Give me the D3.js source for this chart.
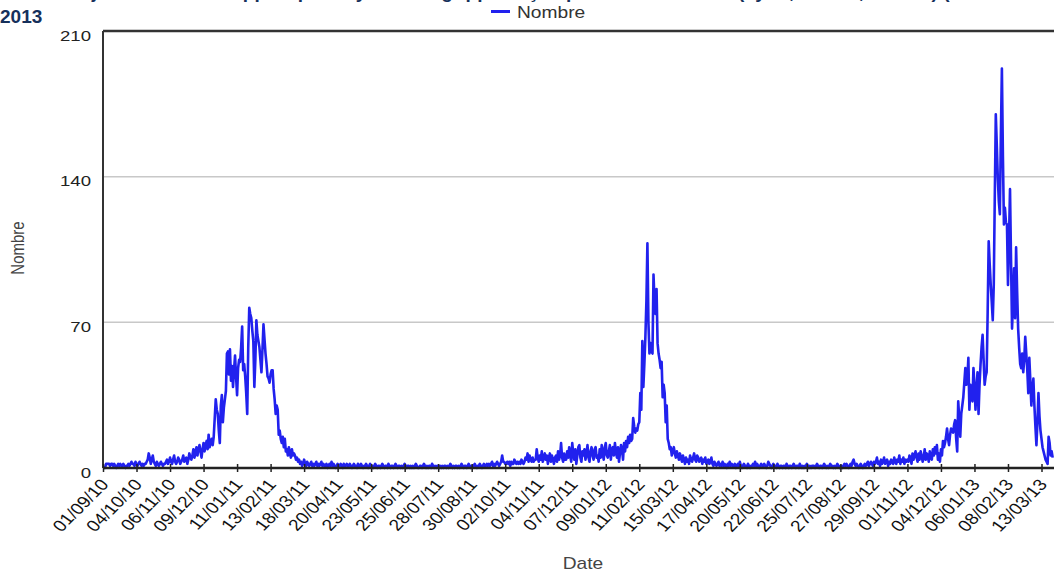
<!DOCTYPE html>
<html>
<head>
<meta charset="utf-8">
<script src="https://cdn.jsdelivr.net/npm/d3@7"></script>
<style>
  body { margin: 0; background: #fff; overflow: hidden; }
  svg { display: block; }
</style>
</head>
<body>
<div id="chart-container"></div>
<script>
// Title, axis names and tick labels

const titleLines = [
  'Évolution journalière des appels pour syndrome grippal reçus par SOS Médecins (Lyon, Rhône, France) (2010 -',
  '2013',
]
const seriesName = 'Nombre'
const xTitle = 'Date'
const yTitle = 'Nombre'
const yTicks = [0, 70, 140, 210]
const tickLabels = [
  '01/09/10', '04/10/10', '06/11/10', '09/12/10', '11/01/11', '13/02/11', '18/03/11',
  '20/04/11', '23/05/11', '25/06/11', '28/07/11', '30/08/11', '02/10/11', '04/11/11',
  '07/12/11', '09/01/12', '11/02/12', '15/03/12', '17/04/12', '20/05/12', '22/06/12',
  '25/07/12', '27/08/12', '29/09/12', '01/11/12', '04/12/12', '06/01/13', '08/02/13',
  '13/03/13',
]

// Daily counts, one array per month

const sep10 = [0,0,0,2,2,2,2,1,2,2,1,2,1,0,1,2,1,2,1,1,2,1,0,1,1,2,1,2,3,2]
const oct10 = [2,1,3,2,1,2,3,2,1,2,1,2,2,3,4,7,5,2,4,6,3,2,1,3,2,1,2,3,2,1,2]
const nov10 = [2,3,4,2,3,5,3,2,4,6,3,2,3,5,4,2,3,4,6,3,4,5,2,4,7,5,4,6,9,5]
const dec10 = [7,10,6,9,11,8,5,9,12,8,11,13,9,16,10,12,14,11,15,24,33,28,26,18,12,30,35,22,29,33,37]
const jan11 = [55,56,45,57,42,49,39,47,54,44,35,48,52,51,58,68,47,50,44,36,26,58,77,74,72,66,61,39,52,71,64]
const feb11 = [61,58,52,46,57,69,62,55,50,44,43,41,45,47,47,38,33,26,30,28,16,18,14,12,15,10,14,8]
const mar11 = [9,6,10,7,5,9,6,7,6,4,5,3,4,2,3,1,2,4,2,1,3,2,1,2,3,1,2,1,2,3,1]
const apr11 = [2,1,2,3,1,2,1,1,2,0,1,2,1,3,1,2,1,0,1,2,1,1,2,1,0,2,1,1,2,1]
const may11 = [1,2,1,0,1,2,1,1,0,2,1,1,2,1,0,1,1,2,1,0,1,2,1,1,0,1,2,1,0,1,1]
const jun11 = [0,1,2,1,0,1,1,0,2,1,0,1,1,0,1,2,1,0,1,1,0,1,0,1,2,1,0,1,1,0]
const jul11 = [1,0,1,0,1,2,1,0,0,1,1,0,1,2,1,0,1,0,1,1,0,2,1,0,1,0,1,1,0,1,0]
const aug11 = [1,0,1,1,0,1,0,1,2,1,0,1,0,1,1,0,1,0,1,2,1,0,1,1,0,1,2,1,0,1,1]
const sep11 = [1,2,1,0,1,1,2,1,0,1,2,1,1,2,1,2,1,2,3,1,2,1,2,3,2,1,2,3,6,3]
const oct11 = [3,2,2,3,2,3,1,3,2,2,4,3,2,3,2,3,2,4,3,2,3,5,4,7,3,6,4,3,5,3,4]
const nov11 = [4,9,5,3,6,4,8,3,5,7,4,6,2,5,7,3,6,4,2,5,6,3,8,4,6,12,5,3,7,4]
const dec11 = [4,8,5,10,6,3,12,7,4,9,2,6,10,11,5,3,8,6,9,4,7,11,5,3,8,10,6,4,9,10,5]
const jan12 = [6,3,9,5,11,7,4,10,12,6,5,8,11,4,9,10,6,12,8,5,10,3,7,11,9,4,12,8,13,10,15]
const feb12 = [12,16,13,14,24,20,17,19,18,21,22,36,28,61,39,50,63,80,108,70,55,60,56,55,93,80,74,86,60]
const mar12 = [55,52,48,51,34,40,36,22,30,14,12,9,10,6,8,10,7,5,8,6,4,7,5,3,6,4,2,5,3,4,2]
const apr12 = [6,4,3,5,7,4,3,6,5,3,4,5,2,4,3,5,2,3,4,2,3,5,2,1,3,2,1,2,3,1]
const may12 = [2,1,3,1,2,1,0,2,1,3,1,2,1,1,2,0,1,2,1,3,1,0,1,2,1,1,0,2,1,0,1]
const jun12 = [1,2,1,3,1,2,1,0,1,2,1,1,2,1,0,1,3,2,1,0,1,2,1,1,0,2,1,0,1,1]
const jul12 = [0,1,1,0,2,1,0,1,1,0,1,2,1,0,1,1,0,2,1,0,1,0,1,1,2,1,0,1,0,1,1]
const aug12 = [1,0,1,2,1,0,1,1,0,1,2,1,0,1,0,1,2,1,1,0,1,0,1,2,1,0,1,1,0,1,2]
const sep12 = [1,2,1,0,1,2,1,3,4,2,1,2,1,0,1,2,1,0,1,2,1,2,3,1,2,3,2,1,3,2]
const oct12 = [3,5,2,3,1,4,2,3,5,2,3,4,1,3,2,4,3,2,5,3,2,4,3,6,2,4,3,5,2,4,3]
const nov12 = [4,3,6,5,2,7,4,6,8,5,3,7,4,8,6,3,5,9,4,7,6,3,8,5,4,9,6,10,7,11]
const dec12 = [4,7,3,9,6,13,10,12,15,19,14,11,16,19,18,17,21,23,14,8,32,24,15,26,30,34,41,48,40,43,53]
const jan13 = [28,40,35,32,48,40,28,38,46,26,40,50,58,64,52,40,44,46,75,109,98,88,80,71,88,130,170,155,139,128,122]
const feb13 = [160,192,150,117,125,118,117,88,110,134,100,67,80,96,72,106,85,67,58,50,48,55,46,52,63,55,47,36]
const mar13 = [53,42,30,38,43,30,20,11,22,36,25,18,14,10,8,6,4,3,2,15,12,6,8,5]

const months = [
  sep10, oct10, nov10, dec10, jan11, feb11, mar11, apr11, may11, jun11, jul11, aug11,
  sep11, oct11, nov11, dec11, jan12, feb12, mar12, apr12, may12, jun12, jul12, aug12,
  sep12, oct12, nov12, dec12, jan13, feb13, mar13,
]

// Build the dataset, one point per day from the first tick date

const parseDate = d3.timeParse('%d/%m/%y')
const tickDates = tickLabels.map(parseDate)
const dataset = months.flat().map((v, i) => ({
  date: d3.timeDay.offset(tickDates[0], i),
  value: v,
}))

// Sizes (the drawing is stretched horizontally like the source image)

const width = 1054
const height = 572
const plot = { left: 103, top: 31, bottom: 468, right: 1054 }
const stretch = 1.2
const font = "'Liberation Sans', Arial, sans-serif"

const svg = d3
  .select('#chart-container')
  .append('svg')
  .attr('width', width)
  .attr('height', height)

// Scales

const x = d3
  .scaleTime()
  .domain([tickDates[0], tickDates[tickDates.length - 1]])
  .range([plot.left, 1041.5])
const y = d3.scaleLinear().domain([0, 210]).range([plot.bottom, plot.top])

// Title (first line is pushed off the top edge, as in the source)

svg
  .selectAll('.title')
  .data(titleLines)
  .enter()
  .append('text')
  .attr('class', 'title')
  .attr('x', 0)
  .attr('y', (d, i) => -2.5 + i * 25)
  .style('font', `bold 19px ${font}`)
  .attr('fill', '#16305b')
  .text((d) => d)

// Grid lines and frame

svg
  .selectAll('.grid')
  .data(yTicks.filter((t) => t > 0 && t < 210))
  .enter()
  .append('line')
  .attr('x1', plot.left)
  .attr('x2', plot.right)
  .attr('y1', (d) => y(d))
  .attr('y2', (d) => y(d))
  .attr('stroke', '#c8c8c8')
  .attr('stroke-width', 1.5)

svg
  .append('line')
  .attr('x1', plot.left)
  .attr('x2', plot.right)
  .attr('y1', y(210))
  .attr('y2', y(210))
  .attr('stroke', '#333')
  .attr('stroke-width', 2.5)

svg
  .append('line')
  .attr('x1', plot.left)
  .attr('x2', plot.left)
  .attr('y1', y(210))
  .attr('y2', y(0))
  .attr('stroke', '#333')
  .attr('stroke-width', 2)

// Y tick labels

svg
  .selectAll('.ylab')
  .data(yTicks)
  .enter()
  .append('text')
  .attr('class', 'ylab')
  .attr('transform', (d) => `translate(91,${y(d) + 9.5}) scale(${stretch},1)`)
  .attr('text-anchor', 'end')
  .style('font', `15.5px ${font}`)
  .attr('fill', '#222')
  .text((d) => d)

// The line

const line = d3
  .line()
  .x((d) => x(d.date))
  .y((d) => y(d.value))

svg
  .append('path')
  .datum(dataset)
  .attr('fill', 'none')
  .attr('stroke', '#2121ee')
  .attr('stroke-width', 2.6)
  .attr('stroke-linejoin', 'round')
  .attr('d', line)

// X axis

const gx = svg
  .append('g')
  .attr('transform', `translate(0,${y(0)})`)
  .call(
    d3
      .axisBottom(x)
      .tickValues(tickDates)
      .tickFormat((d, i) => tickLabels[i])
      .tickSizeOuter(0)
  )

gx.select('.domain').remove()
gx.append('line')
  .attr('x1', plot.left)
  .attr('x2', plot.right)
  .attr('stroke', '#222')
  .attr('stroke-width', 2.5)
gx.selectAll('.tick line')
  .attr('y1', -4)
  .attr('y2', 4)
  .attr('stroke', '#222')
  .attr('stroke-width', 1.5)
gx.selectAll('.tick text')
  .attr('y', null)
  .attr('dy', null)
  .attr('text-anchor', 'end')
  .attr('transform', `translate(6,17) scale(${stretch},1) rotate(-50)`)
  .style('font', `16px ${font}`)
  .attr('fill', '#111')

// Axis titles

svg
  .append('text')
  .attr('transform', `translate(583,569) scale(${stretch},1)`)
  .attr('text-anchor', 'middle')
  .style('font', `16px ${font}`)
  .attr('fill', '#444')
  .text(xTitle)

svg
  .append('text')
  .attr('transform', `translate(24,248) scale(${stretch},1) rotate(-90)`)
  .attr('text-anchor', 'middle')
  .style('font', `15px ${font}`)
  .attr('fill', '#444')
  .text(yTitle)

// Legend

svg
  .append('line')
  .attr('x1', 491)
  .attr('x2', 510)
  .attr('y1', 11.5)
  .attr('y2', 11.5)
  .attr('stroke', '#2121ee')
  .attr('stroke-width', 3)

svg
  .append('text')
  .attr('transform', `translate(517,17.5) scale(${stretch},1)`)
  .style('font', `16px ${font}`)
  .attr('fill', '#333')
  .text(seriesName)
</script>
</body>
</html>
